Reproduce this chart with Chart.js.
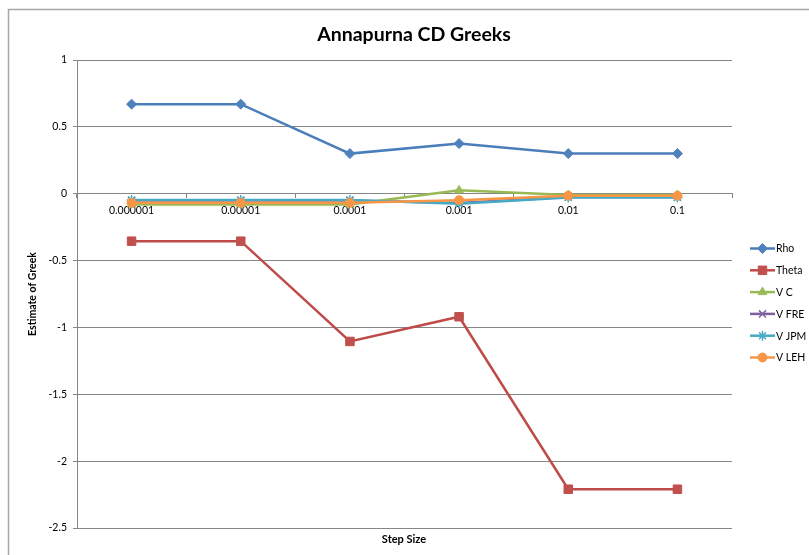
<!DOCTYPE html>
<html>
<head>
<meta charset="utf-8">
<script src="https://cdn.jsdelivr.net/npm/chart.js@4/dist/chart.umd.min.js"></script>
<style>
  html, body { margin: 0; padding: 0; background: #fff; }
  #wrap { width: 809px; height: 555px; }
</style>
</head>
<body>
<div id="wrap"><canvas id="greeksChart" width="809" height="555"></canvas></div>
<script>
// step sizes on the x axis
const stepSizes = ["0.000001", "0.00001", "0.0001", "0.001", "0.01", "0.1"];

// greek estimates per step size
const rho   = [0.67, 0.67, 0.30, 0.375, 0.30, 0.30];
const theta = [-0.355, -0.355, -1.105, -0.92, -2.21, -2.21];
const vC    = [-0.08, -0.08, -0.08, 0.025, -0.01, -0.01];
const vFRE  = [-0.05, -0.05, -0.05, -0.07, -0.025, -0.025];
const vJPM  = [-0.047, -0.047, -0.047, -0.075, -0.028, -0.028];
const vLEH  = [-0.068, -0.068, -0.068, -0.048, -0.015, -0.015];

const chartTitle = 'Annapurna CD Greeks';
const xTitle = 'Step Size';
const yTitle = 'Estimate of Greek';

const font = "Lato, 'Open Sans', 'Liberation Sans', sans-serif";

function series(label, data, line, fill, style, radius, order) {
  return {
    label: label,
    data: data,
    borderColor: line,
    backgroundColor: fill,
    borderWidth: 2.5,
    pointStyle: style,
    pointRadius: radius,
    pointBackgroundColor: fill,
    pointBorderColor: fill,
    pointBorderWidth: (style === 'crossRot' || style === 'star') ? 1.5 : 1,
    tension: 0,
    fill: false,
    order: order
  };
}

const datasets = [
  series('Rho', rho, '#4A7EBB', '#4F81BD', 'rectRot', 5, 6),
  series('Theta', theta, '#BE4B48', '#C0504D', 'rect', 6, 5),
  series('V C', vC, '#98B954', '#9BBB59', 'triangle', 5, 4),
  series('V FRE', vFRE, '#7D60A0', '#8064A2', 'crossRot', 5, 3),
  series('V JPM', vJPM, '#46AAC5', '#4BACC6', 'star', 5, 2),
  series('V LEH', vLEH, '#F79646', '#F79646', 'circle', 4.5, 1)
];

// white background, outer frame, chart title and x axis title
const framePlugin = {
  id: 'frame',
  beforeDraw(chart) {
    const ctx = chart.ctx;
    ctx.save();
    ctx.fillStyle = '#fff';
    ctx.fillRect(0, 0, chart.width, chart.height);
    ctx.strokeStyle = '#a6a6a6';
    ctx.lineWidth = 1.5;
    ctx.beginPath();
    ctx.moveTo(8.5, chart.height);
    ctx.lineTo(8.5, 9.5);
    ctx.lineTo(chart.width, 9.5);
    ctx.stroke();

    ctx.fillStyle = '#000';
    ctx.textAlign = 'center';
    ctx.textBaseline = 'middle';
    ctx.font = "bold 19.5px " + font;
    ctx.fillText(chartTitle, 414, 35);
    ctx.font = "bold 11px " + font;
    ctx.fillText(xTitle, 404, 539);
    ctx.restore();
  }
};

// legend on the right with line + marker samples
const sideLegend = {
  id: 'sideLegend',
  afterDraw(chart) {
    const ctx = chart.ctx;
    ctx.save();
    chart.data.datasets.forEach((ds, i) => {
      const y = 248.5 + i * 21.8;
      ctx.strokeStyle = ds.borderColor;
      ctx.lineWidth = 2.5;
      ctx.beginPath();
      ctx.moveTo(750, y);
      ctx.lineTo(775, y);
      ctx.stroke();
      ctx.fillStyle = ds.pointBackgroundColor;
      ctx.strokeStyle = ds.pointBorderColor;
      ctx.lineWidth = ds.pointBorderWidth;
      Chart.helpers.drawPoint(ctx, { pointStyle: ds.pointStyle, radius: ds.pointRadius, rotation: 0, borderWidth: ds.pointBorderWidth }, 762.5, y);
      ctx.fillStyle = '#000';
      ctx.font = "10.5px " + font;
      ctx.textBaseline = 'middle';
      ctx.textAlign = 'left';
      ctx.fillText(ds.label, 776, y + 0.5);
    });
    ctx.restore();
  }
};

const ctx = document.getElementById('greeksChart').getContext('2d');
new Chart(ctx, {
  type: 'line',
  data: { labels: stepSizes, datasets: datasets },
  plugins: [framePlugin, sideLegend],
  options: {
    responsive: false,
    animation: false,
    layout: { padding: { left: 0, right: 77, top: 60, bottom: 27 } },
    plugins: {
      legend: { display: false },
      tooltip: { enabled: false },
      title: { display: false }
    },
    scales: {
      x: {
        type: 'category',
        axis: 'x',
        position: { y: 0 },
        offset: true,
        grid: {
          offset: true,
          drawOnChartArea: false,
          drawTicks: true,
          tickLength: 4,
          color: '#868686'
        },
        border: { display: true, color: '#868686', width: 1 },
        ticks: {
          color: '#000',
          padding: 7,
          maxRotation: 0,
          autoSkip: false,
          font: { family: font, size: 10.5 }
        }
      },
      y: {
        min: -2.5,
        max: 1,
        afterFit(scale) { scale.width = 77; },
        grid: {
          color: '#868686',
          tickLength: 4,
          drawTicks: true
        },
        border: { display: true, color: '#868686', width: 1 },
        ticks: {
          stepSize: 0.5,
          color: '#000',
          padding: 6,
          font: { family: font, size: 10.5 },
          callback: (value) => String(value)
        },
        title: {
          display: true,
          text: yTitle,
          color: '#000',
          font: { family: font, size: 10.5, weight: 'bold' },
          padding: { top: 26, bottom: 0 }
        }
      }
    }
  }
});
</script>
</body>
</html>
